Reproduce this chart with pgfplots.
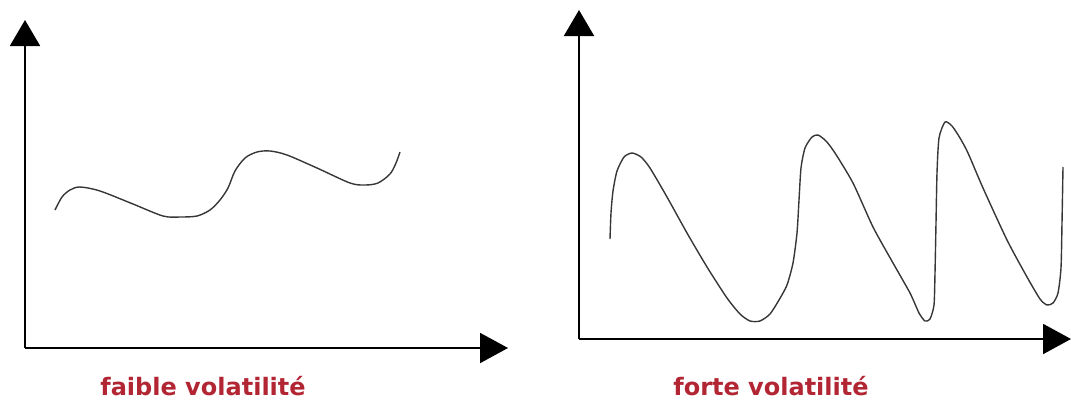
\documentclass[border=0pt]{standalone}
\usepackage{pgfplots}
\pgfplotsset{compat=1.18}
\usetikzlibrary{arrows.meta}
\usepackage{fontspec}
\setmainfont{DejaVu Sans}
\definecolor{labelred}{RGB}{178,38,52}
\definecolor{curvegray}{RGB}{55,55,55}

% one pixel of the reference = 0.5pt
\pgfplotsset{
  sketch/.style={
    x=0.5pt, y=0.5pt,
    axis lines=left,
    x axis line style={line width=1pt,-{Triangle[length=14pt,width=15pt]}},
    y axis line style={line width=1pt,-{Triangle[length=13pt,width=15pt]}},
    xtick=\empty, ytick=\empty,
    clip=false,
    xlabel style={anchor=base,font=\bfseries\fontsize{12}{14}\selectfont,text=labelred},
  },
}

\begin{document}
\begin{tikzpicture}
\begin{axis}[sketch,
  at={(12.5pt,27.5pt)}, anchor=south west,
  xmin=25, xmax=508, ymin=55, ymax=383,
  xlabel={faible volatilité},
  every axis x label/.append style={at={(axis cs:203,8)}},
]
\addplot[curvegray, line width=0.7pt, smooth, tension=0.5] coordinates {
  (55,193) (62,206) (70,213) (80,216) (100,212) (133,199) (163,187)
  (180,186) (197,187) (210,193) (220,203) (228,215) (235,232) (245,245)
  (257,251) (270,252) (287,248) (317,235) (350,220) (365,218) (378,220)
  (390,229) (396,240) (400,251)
};
\end{axis}

\begin{axis}[sketch,
  at={(289.5pt,32pt)}, anchor=south west,
  xmin=579, xmax=1071, ymin=64, ymax=393,
  xlabel={forte volatilité},
  every axis x label/.append style={at={(axis cs:771,8)}},
]
\addplot[curvegray, line width=0.7pt, smooth, tension=0.4] coordinates {
  (610,164) (611,190) (613,212) (617,232) (624,246) (632,250) (641,246)
  (650,235) (667,206) (687,170) (707,136) (727,105) (740,89) (750,82)
  (760,82) (770,89) (779,103) (787,118) (793,140) (797,170) (799,203)
  (801,235) (805,255) (812,266) (818,268) (826,262) (835,250) (853,220)
  (873,176) (893,140) (910,110) (919,90) (925,82) (930,84) (934,98)
  (935,130) (936,180) (937,230) (939,265) (945,281) (952,277) (960,265)
  (968,250) (983,215) (1007,163) (1027,126) (1040,104) (1047,98)
  (1053,100) (1058,110) (1061,135) (1062,180) (1063,236)
};
\end{axis}

\pgfresetboundingbox
\useasboundingbox (0,0) rectangle (535.5pt,201.5pt);
\end{tikzpicture}
\end{document}
